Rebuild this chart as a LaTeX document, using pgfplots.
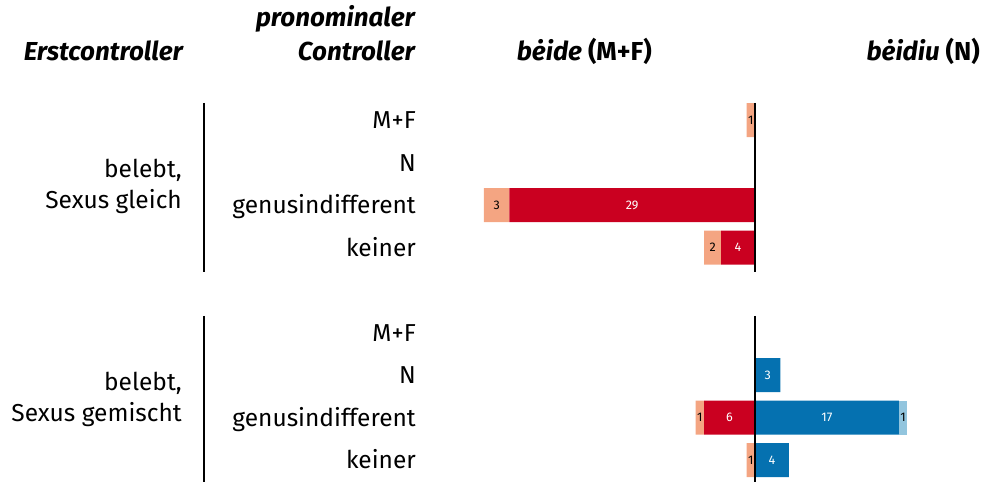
\documentclass[border=0pt]{standalone}
\usepackage{pgfplots}
\pgfplotsset{compat=1.18}
\usepackage{fontspec}
\setmainfont{Fira Sans}
\definecolor{cDR}{HTML}{CA0020}
\definecolor{cSA}{HTML}{F4A582}
\definecolor{cLB}{HTML}{92C5DE}
\definecolor{cBL}{HTML}{0571B0}
\pgfplotsset{
  mybars/.style={
    at={(483.1pt,0.75pt)}, anchor=south west,
    scale only axis, width=496.3pt, height=382.5pt,
    xmin=-32.1, xmax=26.5, ymin=-0.5, ymax=8.5, y dir=reverse,
    xbar stacked, bar width=34pt, hide axis, clip=false,
    point meta=explicit,
    /pgf/number format/assume math mode=true,
    nodes near coords={\pgfmathfloatifflags{\pgfplotspointmeta}{0}{}{\pgfmathprintnumber{\pgfplotspointmeta}}},
    every node near coord/.append style={font=\fontsize{12.5}{15}\selectfont},
  }
}
\begin{document}
\begin{tikzpicture}
\useasboundingbox (0,0) rectangle (983pt,482pt);
% negative side: beide (M+F)
\begin{axis}[mybars]
\addplot[fill=cDR, draw=none, every node near coord/.append style={text=white}] coordinates {
 (0,0) [0] (0,1) [0] (-29,2) [29] (-4,3) [4]
 (0,5) [0] (0,6) [0] (-6,7) [6] (0,8) [0]};
\addplot[fill=cSA, draw=none, every node near coord/.append style={text=black}] coordinates {
 (-1,0) [1] (0,1) [0] (-3,2) [3] (-2,3) [2]
 (0,5) [0] (0,6) [0] (-1,7) [1] (-1,8) [1]};
\end{axis}
% positive side: beidiu (N)
\begin{axis}[mybars]
\addplot[fill=cBL, draw=none, every node near coord/.append style={text=white}] coordinates {
 (0,0) [0] (0,1) [0] (0,2) [0] (0,3) [0]
 (0,5) [0] (3,6) [3] (17,7) [17] (4,8) [4]};
\addplot[fill=cLB, draw=none, every node near coord/.append style={text=black}] coordinates {
 (0,0) [0] (0,1) [0] (0,2) [0] (0,3) [0]
 (0,5) [0] (0,6) [0] (1,7) [1] (0,8) [0]};
\end{axis}
% zero lines and separator lines
\draw[line width=1.4pt] (755pt,379pt) -- (755pt,210pt);
\draw[line width=1.4pt] (755pt,166pt) -- (755pt,0pt);
\draw[line width=1.4pt] (204pt,379pt) -- (204pt,210pt);
\draw[line width=1.4pt] (204pt,166pt) -- (204pt,0pt);
% headers
\begin{scope}[every node/.style={inner sep=0pt, font=\fontsize{26}{31}\selectfont\bfseries\itshape}]
\node[anchor=base east] at (415pt,455pt) {pronominaler};
\node[anchor=base east] at (415pt,421pt) {Controller};
\node[anchor=base east] at (183pt,421pt) {Erstcontroller};
\node[anchor=base east] at (652pt,421pt) {bėide \upshape(M+F)};
\node[anchor=base east] at (980pt,421pt) {bėidiu \upshape(N)};
\end{scope}
% row labels
\begin{scope}[every node/.style={inner sep=0pt, font=\fontsize{24.5}{29}\selectfont}]
\node[anchor=base east] at (416pt,353pt) {M+F};
\node[anchor=base east] at (416pt,310.5pt) {N};
\node[anchor=base east] at (416pt,268pt) {genusindifferent};
\node[anchor=base east] at (416pt,225.5pt) {keiner};
\node[anchor=base east] at (416pt,140.5pt) {M+F};
\node[anchor=base east] at (416pt,98pt) {N};
\node[anchor=base east] at (416pt,55.5pt) {genusindifferent};
\node[anchor=base east] at (416pt,13pt) {keiner};
\node[anchor=base east] at (182pt,304pt) {belebt,};
\node[anchor=base east] at (182pt,273pt) {Sexus gleich};
\node[anchor=base east] at (182pt,91pt) {belebt,};
\node[anchor=base east] at (182pt,60pt) {Sexus gemischt};
\end{scope}
\end{tikzpicture}
\end{document}
